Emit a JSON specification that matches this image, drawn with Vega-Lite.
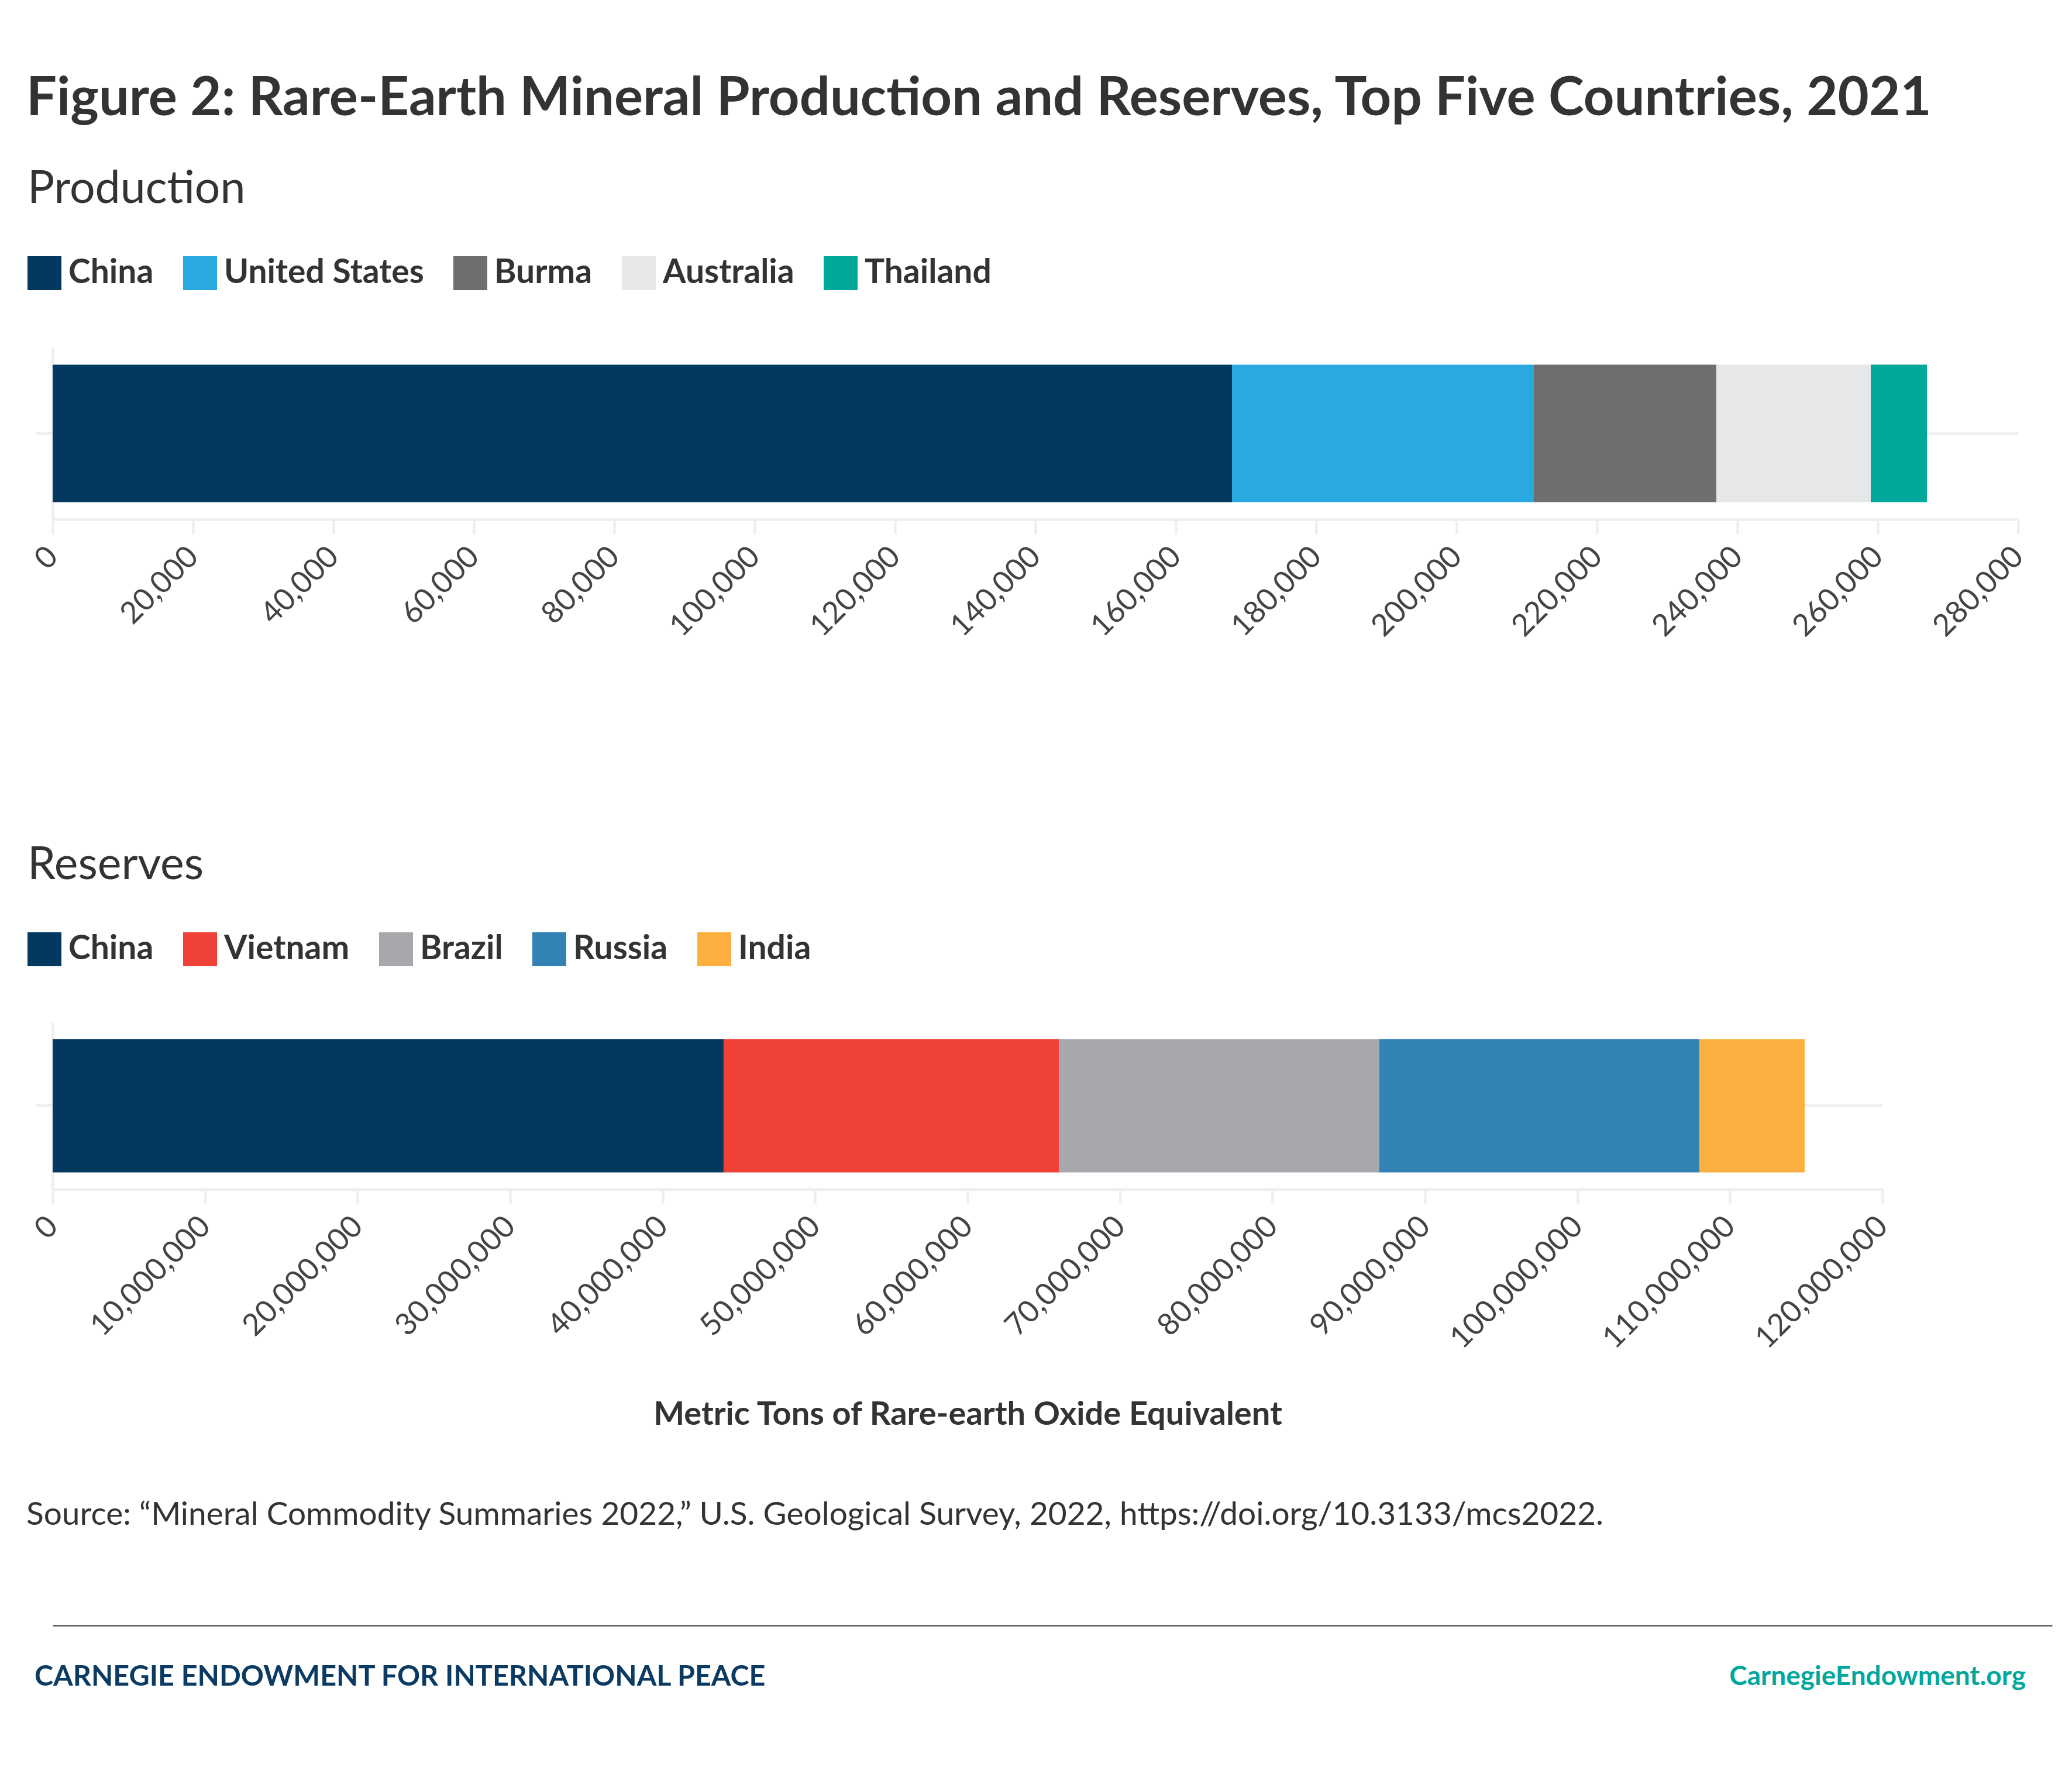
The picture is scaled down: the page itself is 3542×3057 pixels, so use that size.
{
  "$schema": "https://vega.github.io/schema/vega-lite/v6.json",
  "background": "white",
  "padding": {"left": 45, "top": 123, "right": 20, "bottom": 20},
  "autosize": {"type": "pad"},
  "title": {
    "text": "Figure 2: Rare-Earth Mineral Production and Reserves, Top Five Countries, 2021",
    "anchor": "start",
    "frame": "bounds",
    "fontSize": 92,
    "fontWeight": "bold",
    "color": "#333333",
    "font": "Lato",
    "offset": 70
  },
  "datasets": {
    "production": [
      {"measure": "Production", "country": "China", "tons": 168000},
      {"measure": "Production", "country": "United States", "tons": 43000},
      {"measure": "Production", "country": "Burma", "tons": 26000},
      {"measure": "Production", "country": "Australia", "tons": 22000},
      {"measure": "Production", "country": "Thailand", "tons": 8000}
    ],
    "reserves": [
      {"measure": "Reserves", "country": "China", "tons": 44000000},
      {"measure": "Reserves", "country": "Vietnam", "tons": 22000000},
      {"measure": "Reserves", "country": "Brazil", "tons": 21000000},
      {"measure": "Reserves", "country": "Russia", "tons": 21000000},
      {"measure": "Reserves", "country": "India", "tons": 6900000}
    ],
    "footer": [
      {"org": "CARNEGIE ENDOWMENT FOR INTERNATIONAL PEACE", "site": "CarnegieEndowment.org"}
    ]
  },
  "align": "none",
  "spacing": 117,
  "vconcat": [
    {
      "spacing": 344,
      "align": "none",
      "resolve": {"scale": {"color": "independent", "x": "independent", "y": "independent"}, "legend": {"color": "independent"}, "axis": {"x": "independent", "y": "independent"}},
      "vconcat": [
        {
          "data": {"name": "production"},
          "width": 3360,
          "height": 294,
          "mark": {"type": "bar"},
          "encoding": {
            "y": {
              "field": "measure", "type": "nominal",
              "scale": {"paddingInner": 0, "paddingOuter": 0.125},
              "axis": {"labels": false, "title": null, "ticks": true, "tickSize": 28, "tickWidth": 5, "tickColor": "#efefef", "domain": true, "domainColor": "#efefef", "domainWidth": 5, "grid": true, "gridColor": "#efefef", "gridWidth": 5}
            },
            "x": {
              "field": "tons", "type": "quantitative", "stack": "zero",
              "scale": {"domain": [0, 280000], "nice": false},
              "axis": {"tickCount": 14, "format": ",d", "title": null, "labelAngle": -45, "labelAlign": "right", "labelBaseline": "middle", "labelFontSize": 52, "labelColor": "#444444", "labelPadding": 30, "labelLimit": 2000, "tickSize": 25, "tickWidth": 4.5, "tickColor": "#efefef", "domainColor": "#efefef", "domainWidth": 5, "grid": false, "labelFlush": false, "labelOverlap": false, "labelBound": false}
            },
            "color": {
              "field": "country", "type": "nominal",
              "scale": {"domain": ["China", "United States", "Burma", "Australia", "Thailand"], "range": ["#03395f", "#29a9e0", "#6d6e70", "#e6e7e8", "#00a89c"]},
              "legend": {"orient": "none", "legendX": -43, "legendY": -308, "direction": "horizontal", "columns": 5, "title": "Production", "titleFontSize": 77, "titleFontWeight": "normal", "titleColor": "#333333", "titlePadding": 75, "titleLimit": 3000, "titleAnchor": "start", "symbolType": "square", "symbolSize": 3364, "symbolStrokeWidth": 0, "symbolOpacity": 1, "labelFontSize": 57, "labelFontWeight": "bold", "labelColor": "#333333", "labelOffset": 12, "labelLimit": 2000, "columnPadding": 50}
            },
            "order": {"field": "tons", "type": "quantitative", "sort": "descending"}
          }
        },
        {
          "data": {"name": "reserves"},
          "width": 3128,
          "height": 285,
          "mark": {"type": "bar"},
          "encoding": {
            "y": {
              "field": "measure", "type": "nominal",
              "scale": {"paddingInner": 0, "paddingOuter": 0.125},
              "axis": {"labels": false, "title": null, "ticks": true, "tickSize": 28, "tickWidth": 5, "tickColor": "#efefef", "domain": true, "domainColor": "#efefef", "domainWidth": 5, "grid": true, "gridColor": "#efefef", "gridWidth": 5}
            },
            "x": {
              "field": "tons", "type": "quantitative", "stack": "zero",
              "scale": {"domain": [0, 120000000], "nice": false},
              "axis": {"tickCount": 12, "format": ",d", "title": "Metric Tons of Rare-earth Oxide Equivalent", "titleFontSize": 56, "titleFontWeight": "bold", "titleColor": "#333333", "titlePadding": 158, "labelAngle": -45, "labelAlign": "right", "labelBaseline": "middle", "labelFontSize": 52, "labelColor": "#444444", "labelPadding": 30, "labelLimit": 2000, "tickSize": 25, "tickWidth": 4.5, "tickColor": "#efefef", "domainColor": "#efefef", "domainWidth": 5, "grid": false, "labelFlush": false, "labelOverlap": false, "labelBound": false}
            },
            "color": {
              "field": "country", "type": "nominal",
              "scale": {"domain": ["China", "Vietnam", "Brazil", "Russia", "India"], "range": ["#03395f", "#ef4137", "#a7a8ab", "#3283b3", "#fbb040"]},
              "legend": {"orient": "none", "legendX": -43, "legendY": -306, "direction": "horizontal", "columns": 5, "title": "Reserves", "titleFontSize": 77, "titleFontWeight": "normal", "titleColor": "#333333", "titlePadding": 75, "titleLimit": 3000, "titleAnchor": "start", "symbolType": "square", "symbolSize": 3364, "symbolStrokeWidth": 0, "symbolOpacity": 1, "labelFontSize": 57, "labelFontWeight": "bold", "labelColor": "#333333", "labelOffset": 12, "labelLimit": 2000, "columnPadding": 50}
            },
            "order": {"field": "tons", "type": "quantitative", "sort": "descending"}
          }
        }
      ]
    },
    {
      "data": {"name": "footer"},
      "width": 3418,
      "height": 176,
      "title": {
        "text": "Source: “Mineral Commodity Summaries 2022,” U.S. Geological Survey, 2022, https://doi.org/10.3133/mcs2022.",
        "anchor": "start",
        "frame": "group",
        "dx": -45,
        "fontSize": 55,
        "fontWeight": "normal",
        "color": "#333333",
        "offset": 160
      },
      "layer": [
        {
          "mark": {"type": "text", "align": "left", "baseline": "middle", "fontSize": 48.5, "fontWeight": "bold", "color": "#0b3b63", "dx": -31},
          "encoding": {
            "text": {"field": "org", "type": "nominal"},
            "x": {"datum": 0, "type": "quantitative", "scale": {"domain": [0, 1]}, "axis": {"orient": "top", "labels": false, "ticks": false, "grid": false, "title": null, "domain": true, "domainColor": "#555555", "domainWidth": 2.5}}
          }
        },
        {
          "mark": {"type": "text", "align": "right", "baseline": "middle", "fontSize": 46, "fontWeight": "bold", "color": "#00a79d", "dx": -45},
          "encoding": {
            "text": {"field": "site", "type": "nominal"},
            "x": {"datum": 1, "type": "quantitative"}
          }
        }
      ]
    }
  ],
  "config": {
    "font": "Lato",
    "view": {"stroke": null},
    "title": {"font": "Lato"},
    "axis": {"labelFont": "Lato", "titleFont": "Lato"},
    "legend": {"labelFont": "Lato", "titleFont": "Lato"},
    "text": {"font": "Lato"}
  }
}
